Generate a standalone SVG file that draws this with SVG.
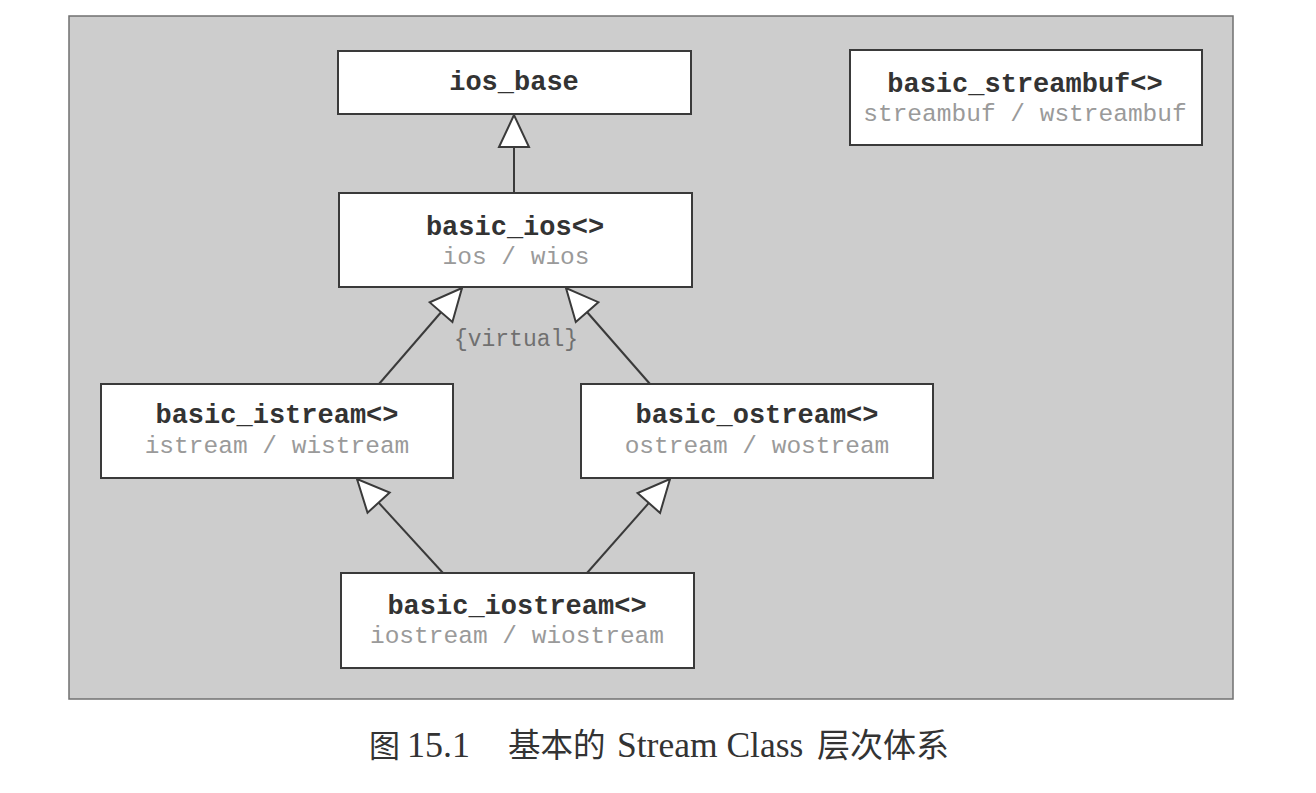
<svg xmlns="http://www.w3.org/2000/svg" width="1316" height="793" viewBox="0 0 1316 793">
<style>
.box{fill:#ffffff;stroke:#3a3a3a;stroke-width:2}
.t{font-family:"Liberation Mono",monospace;font-weight:bold;font-size:27px;fill:#333;text-anchor:middle}
.s{font-family:"Liberation Mono",monospace;font-size:24.5px;fill:#9a9a9a;text-anchor:middle}
.ln{stroke:#3a3a3a;stroke-width:2;fill:none;marker-end:url(#tri)}
.cap{font-family:"Liberation Serif","Noto Sans CJK SC",serif;fill:#333}
</style>
<defs>
<marker id="tri" markerUnits="userSpaceOnUse" markerWidth="40" markerHeight="40" refX="34" refY="17" orient="auto" viewBox="0 0 40 34">
<path d="M34,17 L2,2 L2,32 Z" fill="#fff" stroke="#3a3a3a" stroke-width="2"/>
</marker>
</defs>
<rect x="0" y="0" width="1316" height="793" fill="#fff"/>
<rect id="panel" x="69" y="16" width="1164" height="683" fill="#cdcdcd" stroke="#707070" stroke-width="1.5"/>
<g id="connectors">
<line class="ln" x1="514" y1="193" x2="514" y2="115"/>
<line class="ln" x1="379" y1="384" x2="462" y2="288"/>
<line class="ln" x1="650" y1="384" x2="566" y2="288"/>
<line class="ln" x1="443" y1="573" x2="357" y2="479"/>
<line class="ln" x1="587" y1="573" x2="670" y2="479"/>
<text x="516" y="346" style="font-family:'Liberation Mono',monospace;font-size:23px;fill:#707070;text-anchor:middle">{virtual}</text>
</g>
<g id="ios_base">
<rect class="box" x="338" y="51" width="353" height="63"/>
<text class="t" x="514" y="90">ios_base</text>
</g>
<g id="basic_streambuf">
<rect class="box" x="850" y="50" width="352" height="95"/>
<text class="t" x="1025" y="92">basic_streambuf&lt;&gt;</text>
<text class="s" x="1025" y="121">streambuf / wstreambuf</text>
</g>
<g id="basic_ios">
<rect class="box" x="339" y="193" width="353" height="94"/>
<text class="t" x="515" y="235">basic_ios&lt;&gt;</text>
<text class="s" x="516" y="264">ios / wios</text>
</g>
<g id="basic_istream">
<rect class="box" x="101" y="384" width="352" height="94"/>
<text class="t" x="277" y="423">basic_istream&lt;&gt;</text>
<text class="s" x="277" y="453">istream / wistream</text>
</g>
<g id="basic_ostream">
<rect class="box" x="581" y="384" width="352" height="94"/>
<text class="t" x="757" y="423">basic_ostream&lt;&gt;</text>
<text class="s" x="757" y="453">ostream / wostream</text>
</g>
<g id="basic_iostream">
<rect class="box" x="341" y="573" width="353" height="95"/>
<text class="t" x="517" y="614">basic_iostream&lt;&gt;</text>
<text class="s" x="517" y="643">iostream / wiostream</text>
</g>
<g id="caption">
<text class="cap" y="757"><tspan x="369" font-size="31">图</tspan><tspan x="407" font-size="36">15.1</tspan><tspan x="508" font-size="32.5">基本的</tspan><tspan x="617" font-size="35.5">Stream Class</tspan><tspan x="817" font-size="33">层次体系</tspan></text>
</g>
</svg>
